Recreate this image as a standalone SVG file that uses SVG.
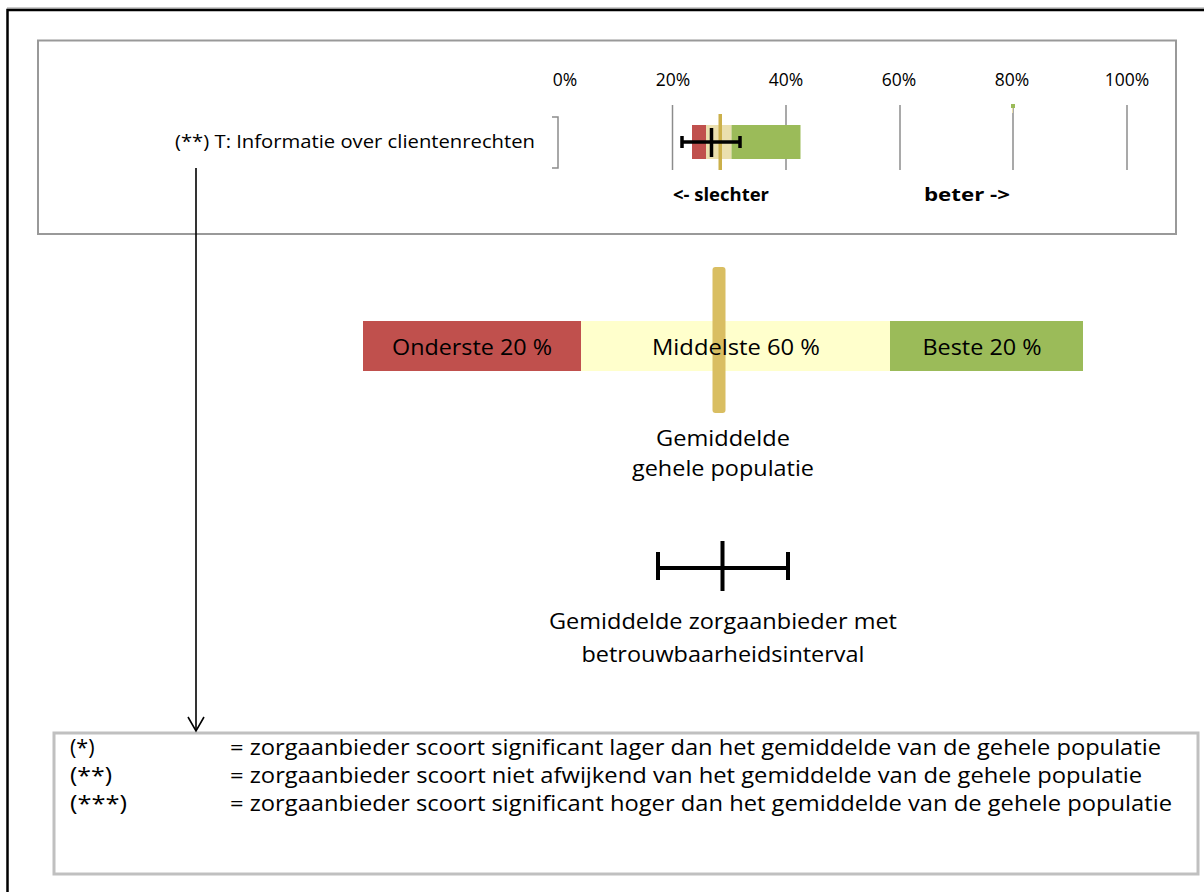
<svg xmlns="http://www.w3.org/2000/svg" width="1204" height="892" viewBox="0 0 1204 892">
<defs>
<style>
text{font-family:"Open Sans","Liberation Sans",sans-serif;fill:#000}
.ax{font-size:17.5px;text-anchor:middle}
.lg{font-size:22px;text-anchor:middle}
.bt{font-size:21.5px}
.grid{stroke:#8c8c8c;stroke-width:1.5}
.err{stroke:#000;stroke-width:3.5;fill:none}
</style>
<marker id="arr" viewBox="0 0 20 20" refX="18" refY="10" markerWidth="20" markerHeight="20" markerUnits="userSpaceOnUse" orient="auto">
<path d="M4,2 L18,10 L4,18" fill="none" stroke="#000" stroke-width="1.6"/>
</marker>
</defs>
<rect width="1204" height="892" fill="#fff"/>
<line x1="7" y1="8" x2="1204" y2="8" stroke="#999" stroke-width="1"/>
<path d="M7.5,892 V10 H1204" fill="none" stroke="#000" stroke-width="2.5"/>

<g id="chart-panel">
<rect x="38" y="40.5" width="1138" height="193.5" fill="#fff" stroke="#999" stroke-width="2"/>
<text class="ax" x="565" y="86">0%</text>
<text class="ax" x="673" y="86">20%</text>
<text class="ax" x="786" y="86">40%</text>
<text class="ax" x="899" y="86">60%</text>
<text class="ax" x="1012" y="86">80%</text>
<text class="ax" x="1127" y="86">100%</text>
<line class="grid" x1="672.5" y1="105" x2="672.5" y2="170"/>
<line class="grid" x1="786" y1="105" x2="786" y2="170"/>
<line class="grid" x1="900" y1="105" x2="900" y2="170"/>
<line class="grid" x1="1013" y1="105" x2="1013" y2="170"/>
<line class="grid" x1="1127" y1="105" x2="1127" y2="170"/>
<path d="M552,117 H558 V168 H552" fill="none" stroke="#8c8c8c" stroke-width="1.5"/>
<text x="175" y="148" font-size="17.5" textLength="360" lengthAdjust="spacingAndGlyphs">(**) T: Informatie  over clientenrechten</text>
<rect x="692" y="125" width="14" height="34" fill="#C0504D"/>
<rect x="706" y="125" width="25.5" height="34" fill="#EADFAE"/>
<rect x="731.5" y="125" width="69" height="34" fill="#9BBB59"/>
<rect x="718.5" y="114" width="3.5" height="56" fill="#CBB04A"/>
<rect x="1011" y="104" width="4" height="4" fill="#9BBB59"/>
<line x1="1012.5" y1="108" x2="1012.5" y2="113" stroke="#EADFAE" stroke-width="1"/>
<path class="err" d="M682,142 H740 M682,136 V148 M740,136 V148 M711.5,128 V157"/>
<text x="721" y="201" font-size="17" font-weight="bold" text-anchor="middle" textLength="96" lengthAdjust="spacingAndGlyphs">&lt;- slechter</text>
<text x="967" y="201" font-size="17" font-weight="bold" text-anchor="middle" textLength="86" lengthAdjust="spacingAndGlyphs">beter -&gt;</text>
</g>

<g id="legend-bands">
<rect x="363" y="321" width="218" height="50" fill="#C0504D"/>
<rect x="581" y="321" width="309" height="50" fill="#FFFFCC"/>
<rect x="890" y="321" width="193" height="50" fill="#9BBB59"/>
<rect x="712.5" y="267" width="13" height="146" rx="3" fill="#D9BE62"/>
<text class="lg" x="472" y="355" textLength="160" lengthAdjust="spacingAndGlyphs">Onderste 20 %</text>
<text class="lg" x="736" y="355" textLength="168" lengthAdjust="spacingAndGlyphs">Middelste 60 %</text>
<text class="lg" x="982" y="355" textLength="119" lengthAdjust="spacingAndGlyphs">Beste 20 %</text>
</g>

<g id="legend-mean">
<text class="lg" x="723" y="446" textLength="134" lengthAdjust="spacingAndGlyphs">Gemiddelde</text>
<text class="lg" x="723" y="476" textLength="182" lengthAdjust="spacingAndGlyphs">gehele populatie</text>
</g>

<g id="legend-interval">
<path d="M658,568 H788 M658,552 V580 M788,552 V580 M722.5,541 V591" fill="none" stroke="#000" stroke-width="4"/>
<text class="lg" x="723" y="629" textLength="348" lengthAdjust="spacingAndGlyphs">Gemiddelde zorgaanbieder met</text>
<text class="lg" x="723" y="662" textLength="283" lengthAdjust="spacingAndGlyphs">betrouwbaarheidsinterval</text>
</g>

<g id="notes-box">
<rect x="54" y="733" width="1144" height="141" fill="#fff" stroke="#c0c0c0" stroke-width="3"/>
<text class="bt" x="70" y="755">(*)</text>
<text class="bt" x="70" y="783" textLength="42" lengthAdjust="spacingAndGlyphs">(**)</text>
<text class="bt" x="70" y="811" textLength="57" lengthAdjust="spacingAndGlyphs">(***)</text>
<text class="bt" x="230" y="755" textLength="931" lengthAdjust="spacingAndGlyphs">= zorgaanbieder scoort significant lager dan het gemiddelde van de gehele populatie</text>
<text class="bt" x="230" y="783" textLength="912" lengthAdjust="spacingAndGlyphs">= zorgaanbieder scoort niet afwijkend van het gemiddelde van de gehele populatie</text>
<text class="bt" x="230" y="811" textLength="942" lengthAdjust="spacingAndGlyphs">= zorgaanbieder scoort significant hoger dan het gemiddelde van de gehele populatie</text>
</g>

<g id="connectors">
<line x1="196" y1="168" x2="196" y2="731" stroke="#000" stroke-width="1.6" marker-end="url(#arr)"/>
</g>
</svg>
